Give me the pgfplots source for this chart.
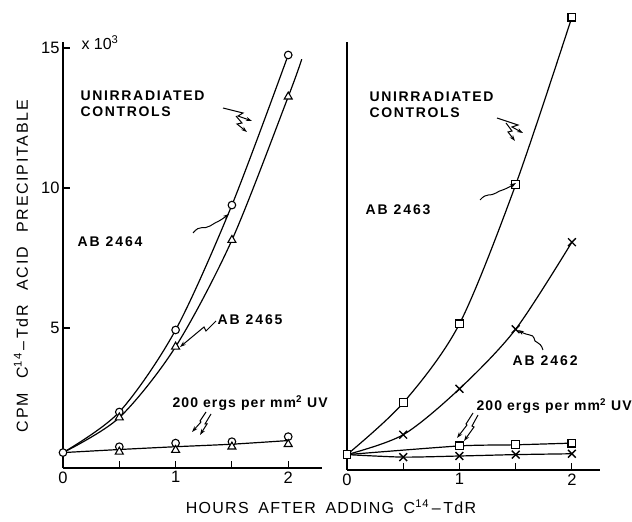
\documentclass[border=0pt]{standalone}
\usepackage{fontspec}
\setmainfont{Liberation Sans}
\usepackage{pgfplots}
\pgfplotsset{compat=1.18}
\usetikzlibrary{arrows.meta}
\begin{document}
\begin{tikzpicture}
\path[use as bounding box] (0,0) rectangle (632pt,522pt);
\pgfplotsset{
  panel/.style={
    scale only axis,
    axis x line*=bottom, axis y line*=left,
    axis line style={-, line width=1.2pt},
    tick align=inside,
    major tick length=7pt,
    tick style={line width=1.1pt, black},
    xtick={0,0.5,1,1.5,2}, xticklabels={0,,1,,2},
    ymin=0,
    /pgf/number format/assume math mode=true,
    ticklabel style={font=\fontsize{16.5}{16.5}\selectfont},
    clip=false,
    every axis plot/.append style={line width=1.2pt, black},
  },
  cmark/.style={mark=*, mark size=3.8pt, mark options={fill=white, draw=black, line width=1.1pt}},
  tmark/.style={mark=triangle*, mark size=4.6pt, mark options={fill=white, draw=black, line width=1.1pt}},
  smark/.style={mark=square*, mark size=3.9pt, mark options={fill=white, draw=black, line width=1.1pt}},
  xmark/.style={mark=x, mark size=5.5pt, mark options={line width=1.4pt}},
}
% ---------------- left panel ----------------
\begin{axis}[panel, at={(63pt,54pt)}, anchor=south west,
  width=259pt, height=425.6pt, xmin=0, xmax=2.3, ymax=15.2,
  ytick={5,10,15}]
% irradiated (single connecting line)
\addplot[smooth, tension=0.4] coordinates {(0,0.55)(0.5,0.66)(1,0.76)(1.5,0.85)(2,0.98)};
% controls
\addplot[smooth, tension=0.5, cmark] coordinates {(0,0.55)(0.5,2.0)(1,4.93)(1.5,9.39)(2,14.75)};
\addplot[smooth, tension=0.5, tmark, mark indices={2,3,4,5}] coordinates {(0,0.55)(0.5,1.8)(1,4.33)(1.5,8.14)(2,13.26)(2.12,14.6)};
% irradiated marks
\addplot[only marks, cmark] coordinates {(0.5,0.76)(1,0.89)(1.5,0.94)(2,1.12)};
\addplot[only marks, tmark] coordinates {(0.5,0.58)(1,0.64)(1.5,0.76)(2,0.85)};
\end{axis}
% ---------------- right panel ----------------
\begin{axis}[panel, at={(347pt,52pt)}, anchor=south west,
  width=253pt, height=428pt, xmin=0, xmax=2.25, ymax=15.29,
  ytick=\empty]
\addplot[smooth, tension=0.4, mark=none] coordinates {(0,0.55)(1,0.86)(1.5,0.9)(2,0.96)};
\addplot[smooth, tension=0.4, xmark, mark indices={2,3,4,5}] coordinates {(0,0.55)(0.5,0.46)(1,0.5)(1.5,0.55)(2,0.58)};
\addplot[only marks, smark] coordinates {(1,0.86)(1.5,0.9)(2,0.96)};
\addplot[smooth, tension=0.5, xmark, mark indices={2,3,4,5}] coordinates {(0,0.55)(0.5,1.26)(1,2.9)(1.5,5.03)(2,8.14)};
\addplot[smooth, tension=0.5, smark] coordinates {(0,0.55)(0.5,2.4)(1,5.22)(1.5,10.19)(2,16.18)};
\end{axis}
% ---------------- annotations (pixel coordinates) ----------------
\begin{scope}[x=1pt, y=-1pt, shift={(0pt,522pt)}, line width=1pt,
  txt/.style={font=\bfseries\fontsize{14}{15.5}\selectfont\addfontfeatures{LetterSpace=12}, inner sep=0pt, anchor=west, align=left},
  ab/.style={font=\bfseries\fontsize{14}{15.5}\selectfont\addfontfeatures{LetterSpace=14}, inner sep=0pt, anchor=west},
  erg/.style={font=\bfseries\fontsize{14}{15}\selectfont\addfontfeatures{LetterSpace=8}, inner sep=0pt, anchor=west},
  arr/.style={-{Stealth[length=6pt,width=4pt]}}]
\node[font=\fontsize{16}{16}\selectfont\addfontfeatures{LetterSpace=11}, rotate=90] at (21,266) {CPM\hspace{0.9em}C\textsuperscript{14}\,–\,TdR\hspace{0.9em}ACID\hspace{0.9em}PRECIPITABLE};
\node[font=\fontsize{16}{16}\selectfont\addfontfeatures{LetterSpace=8}] at (331,507) {HOURS\hspace{0.6em}AFTER\hspace{0.6em}ADDING\hspace{0.6em}C\textsuperscript{14}\,–\,TdR};
\node[font=\fontsize{16}{16}\selectfont, anchor=west, inner sep=0pt] at (81,43) {x 10\textsuperscript{3}};
\node[txt] at (80,104) {UNIRRADIATED\\CONTROLS};
\node[ab] at (77,242) {AB 2464};
\node[ab] at (217,320) {AB 2465};
\node[erg] at (172,403) {200 ergs per mm\textsuperscript{2} UV};
\node[txt] at (369,105) {UNIRRADIATED\\CONTROLS};
\node[ab] at (365,210) {AB 2463};
\node[ab] at (512,361) {AB 2462};
\node[erg] at (476,406) {200 ergs per mm\textsuperscript{2} UV};
% left arrows
\draw[arr] (223,108) -- (243,113) -- (238,116) -- (252,121);
\draw[arr] (236,116) -- (242,123) -- (237,124) -- (247,132);
\draw[arr] (193,233) .. controls (200,224) and (204,230) .. (210,226) .. controls (214,222) and (216,224) .. (229,214);
\draw[arr] (216,321) -- (206,331) -- (204,327) -- (180,347);
\draw[arr] (206,412) -- (200,421) -- (201,422) -- (192,432);
\draw[arr] (211,414) -- (205,424) -- (207,424) -- (200,435);
% right arrows
\draw[arr] (497,118) -- (518,125) -- (512,127) -- (523,133);
\draw[arr] (506,123) -- (512,131) -- (508,132) -- (515,141);
\draw[arr] (480,200) .. controls (487,192) and (490,197) .. (496,193) .. controls (500,190) and (503,191) .. (516,183);
\draw[arr] (543,350) .. controls (540,340) and (534,344) .. (534,338) .. controls (533,334) and (528,336) .. (518,330);
\draw[arr] (473,413) -- (466,424) -- (467,425) -- (457,438);
\draw[arr] (478,415) -- (472,426) -- (474,427) -- (464,441);
\end{scope}
\end{tikzpicture}
\end{document}
